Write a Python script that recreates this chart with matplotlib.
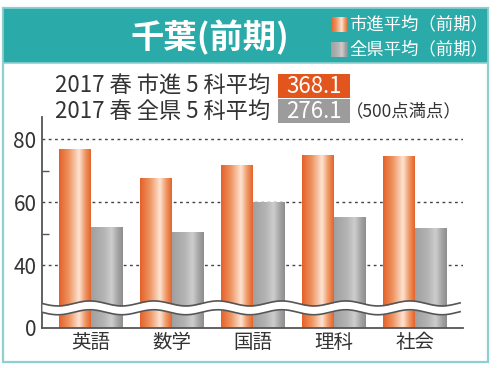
import numpy as np
import matplotlib
matplotlib.use("Agg")
import matplotlib.pyplot as plt
from matplotlib.colors import LinearSegmentedColormap
from matplotlib.patches import Rectangle

plt.rcParams['font.family'] = ['Noto Sans CJK JP', 'DejaVu Sans']

# data
subjects = ['英語', '数学', '国語', '理科', '社会']
ichishin = [77.0, 67.7, 71.7, 75.0, 74.7]
zenken = [52.0, 50.6, 60.0, 55.1, 51.7]
yticks = [20, 40, 60, 80]
ytick_labels = ['0', '40', '60', '80']
title = '千葉(前期)'
legend_names = ['市進平均（前期）', '全県平均（前期）']
avg_lines = ['2017 春 市進 5 科平均', '2017 春 全県 5 科平均']
avg_values = ['368.1', '276.1']
full_marks = '（500点満点）'

base = 20  # value drawn at the broken axis floor ("0")

teal = '#2aaaa8'
teal_light = '#8ed0d1'
ink = '#333333'

orange_cm = LinearSegmentedColormap.from_list('o', [
    (0.0, '#e5622a'), (0.3, '#ee9360'), (0.63, '#fde3d2'),
    (0.82, '#f09a68'), (1.0, '#e3652c')])
gray_cm = LinearSegmentedColormap.from_list('g', [
    (0.0, '#a0a0a0'), (0.4, '#b4b4b4'), (0.65, '#cdcdcd'),
    (0.85, '#a4a4a4'), (1.0, '#8e8e8e')])
grad = np.linspace(0, 1, 64).reshape(1, -1)

fig = plt.figure(figsize=(5, 3.68), dpi=100)

# frame and header
fig.patches.append(Rectangle((0.006, 0.016), 0.970, 0.962, transform=fig.transFigure,
                             facecolor='white', edgecolor=teal_light, lw=1.6, zorder=-2))
fig.patches.append(Rectangle((0.006, 0.829), 0.970, 0.149, transform=fig.transFigure,
                             facecolor=teal, edgecolor=teal_light, lw=1.2, zorder=-1))
fig.text(0.42, 0.899, title, color='white', fontsize=24, fontweight='bold',
         ha='center', va='center')

# legend squares with gradient
for i, (cm, name) in enumerate(zip([orange_cm, gray_cm], legend_names)):
    yb = [0.913, 0.845][i]
    lax = fig.add_axes([0.662, yb, 0.032, 0.040])
    lax.imshow(grad, cmap=cm, aspect='auto')
    lax.axis('off')
    fig.text(0.698, yb + 0.020, name, color='white', fontsize=12.5, va='center')

# average lines
ys = [0.766, 0.698]
box_cols = ['#e2561e', '#9c9c9c']
for y, txt, val, bc in zip(ys, avg_lines, avg_values, box_cols):
    fig.text(0.11, y, txt, color=ink, fontsize=16, va='center')
    fig.patches.append(Rectangle((0.556, y - 0.032), 0.144, 0.064,
                                 transform=fig.transFigure, facecolor=bc,
                                 edgecolor='none'))
    fig.text(0.628, y, val, color='white', fontsize=16, ha='center', va='center')
fig.text(0.692, ys[1], full_marks, color=ink, fontsize=12.5, va='center')

# main axes
ax = fig.add_axes([0.084, 0.1087, 0.842, 0.5733])
x = np.arange(len(subjects))
w = 0.395
b1 = ax.bar(x - w / 2, np.array(ichishin) - base, w, bottom=base,
            color='#e5622a', zorder=2)
b2 = ax.bar(x + w / 2, np.array(zenken) - base, w, bottom=base,
            color='#aaaaaa', zorder=2)
for bars, cm in [(b1, orange_cm), (b2, gray_cm)]:
    for p in bars:
        x0, y0 = p.get_x(), p.get_y()
        im = ax.imshow(grad, cmap=cm, aspect='auto', zorder=3,
                       extent=[x0, x0 + p.get_width(), y0, y0 + p.get_height()])
        im.set_clip_path(p)

ax.set_xlim(-0.601, 4.596)
ax.set_ylim(base, 87)
ax.set_yticks(yticks)
ax.set_yticklabels(ytick_labels)
ax.set_yticks([50, 70], minor=True)
ax.tick_params(axis='y', which='major', length=0, labelsize=15, labelcolor=ink, pad=4)
ax.tick_params(axis='y', which='minor', direction='in', length=5, width=1, color='#555555')
ax.set_xticks(x)
ax.set_xticklabels(subjects)
ax.tick_params(axis='x', length=0, labelsize=14, labelcolor=ink, pad=3)
for yv in [40, 60, 80]:
    ax.axhline(yv, color='#444444', lw=1, ls=(0, (2, 2.5)), zorder=1)
for s in ['top', 'right']:
    ax.spines[s].set_visible(False)
for s in ['left', 'bottom']:
    ax.spines[s].set_color('#555555')
    ax.spines[s].set_linewidth(1.3)
ax.spines['bottom'].set_zorder(6)

# axis break (wavy)
xw = np.linspace(-0.601, 4.56, 600)
wave = 0.8 * np.cos(2 * np.pi * (xw + 0.01) / 0.79)
up = 27.8 + wave
lo = 25.0 + wave
ax.fill_between(xw, lo, up, color='white', zorder=4, lw=0)
ax.plot(xw, up, color='#555555', lw=1.2, zorder=5)
ax.plot(xw, lo, color='#555555', lw=1.2, zorder=5)

fig.savefig('out.png', dpi=100, facecolor='white')
